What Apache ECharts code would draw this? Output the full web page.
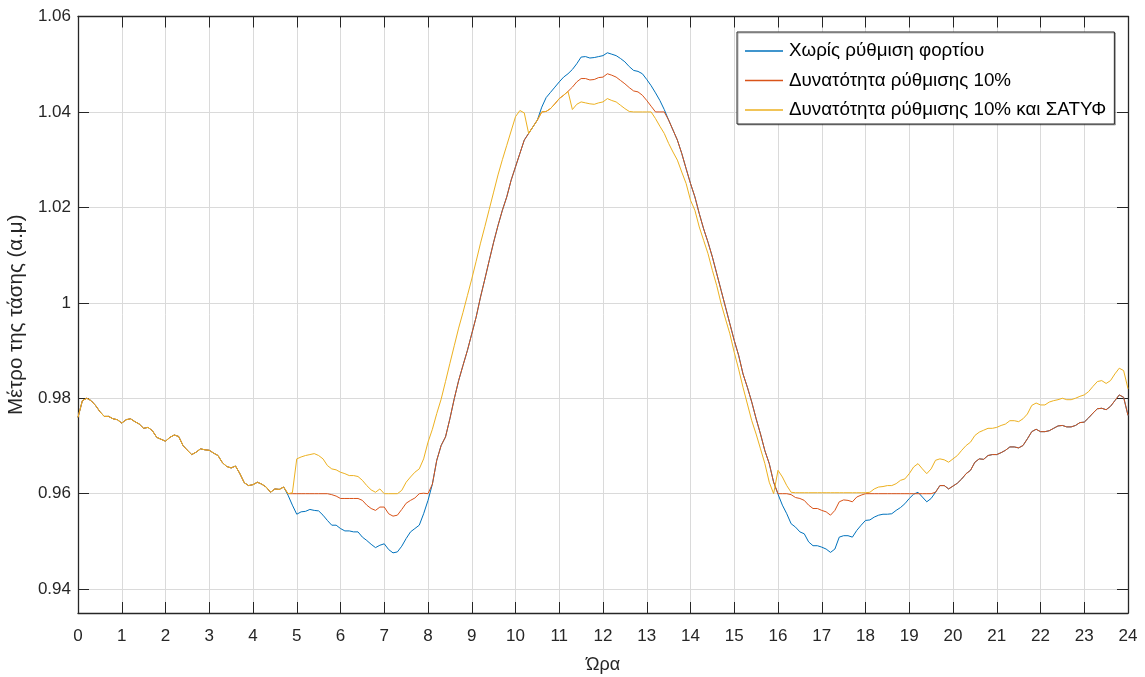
<!DOCTYPE html>
<html>
<head>
<meta charset="utf-8">
<script src="https://cdn.jsdelivr.net/npm/echarts@6/dist/echarts.min.js"></script>
<style>
  html, body { margin: 0; padding: 0; background: #ffffff; }
  #chart { width: 1145px; height: 677px; }
</style>
</head>
<body>
<div id="chart"></div>
<script>
// Sampling times (hours), one sample every 6 minutes
const hours = Array.from({ length: 241 }, (_, i) => i / 10);

// Voltage magnitude (p.u.) – no load regulation
const noRegulation = [
  0.9760,0.9795,0.9800,0.9795,0.9785,0.9772,0.9762,0.9762,0.9757,0.9755,
  0.9748,0.9755,0.9757,0.9751,0.9746,0.9737,0.9739,0.9732,0.9718,0.9714,
  0.9710,0.9718,0.9723,0.9720,0.9701,0.9691,0.9682,0.9687,0.9694,0.9692,
  0.9691,0.9685,0.9680,0.9665,0.9657,0.9654,0.9658,0.9642,0.9623,0.9617,
  0.9619,0.9624,0.9620,0.9614,0.9603,0.9610,0.9609,0.9614,0.9597,0.9576,
  0.9557,0.9562,0.9563,0.9567,0.9565,0.9564,0.9555,0.9544,0.9534,0.9534,
  0.9527,0.9522,0.9522,0.9520,0.9520,0.9509,0.9502,0.9494,0.9487,0.9492,
  0.9495,0.9483,0.9476,0.9478,0.9490,0.9506,0.9520,0.9527,0.9534,0.9558,
  0.9586,0.9620,0.9670,0.9701,0.9719,0.9757,0.9799,0.9837,0.9869,0.9900,
  0.9935,0.9970,1.0012,1.0050,1.0089,1.0127,1.0162,1.0194,1.0222,1.0257,
  1.0285,1.0313,1.0341,1.0355,1.0369,1.0383,1.0410,1.0430,1.0441,1.0452,
  1.0463,1.0473,1.0480,1.0489,1.0501,1.0515,1.0516,1.0513,1.0514,1.0516,
  1.0518,1.0524,1.0521,1.0518,1.0512,1.0505,1.0495,1.0487,1.0485,1.0480,
  1.0468,1.0455,1.0440,1.0424,1.0405,1.0383,1.0362,1.0341,1.0313,1.0281,
  1.0250,1.0222,1.0187,1.0155,1.0127,1.0096,1.0061,1.0026,0.9991,0.9956,
  0.9921,0.9890,0.9851,0.9823,0.9792,0.9757,0.9725,0.9690,0.9663,0.9624,
  0.9599,0.9576,0.9558,0.9537,0.9530,0.9520,0.9516,0.9499,0.9491,0.9491,
  0.9488,0.9484,0.9477,0.9484,0.9509,0.9512,0.9512,0.9509,0.9523,0.9534,
  0.9544,0.9545,0.9551,0.9555,0.9557,0.9557,0.9558,0.9565,0.9571,0.9579,
  0.9590,0.9599,0.9603,0.9593,0.9583,0.9590,0.9603,0.9617,0.9617,0.9610,
  0.9616,0.9622,0.9631,0.9642,0.9649,0.9666,0.9673,0.9672,0.9680,0.9682,
  0.9682,0.9686,0.9691,0.9698,0.9698,0.9696,0.9701,0.9715,0.9730,0.9735,
  0.9730,0.9730,0.9732,0.9737,0.9742,0.9743,0.9740,0.9740,0.9743,0.9749,
  0.9750,0.9759,0.9769,0.9778,0.9779,0.9776,0.9783,0.9795,0.9807,0.9802,
  0.9764
];

// Voltage magnitude (p.u.) – 10% load regulation capability
const regulation10 = [
  0.9760,0.9795,0.9800,0.9795,0.9785,0.9772,0.9762,0.9762,0.9757,0.9755,
  0.9748,0.9755,0.9757,0.9751,0.9746,0.9737,0.9739,0.9732,0.9718,0.9714,
  0.9710,0.9718,0.9723,0.9720,0.9701,0.9691,0.9682,0.9687,0.9694,0.9692,
  0.9691,0.9685,0.9680,0.9665,0.9657,0.9654,0.9658,0.9642,0.9623,0.9617,
  0.9619,0.9624,0.9620,0.9614,0.9603,0.9610,0.9609,0.9614,0.9600,0.9600,
  0.9600,0.9600,0.9600,0.9600,0.9600,0.9600,0.9600,0.9600,0.9598,0.9595,
  0.9590,0.9590,0.9590,0.9590,0.9590,0.9586,0.9576,0.9569,0.9565,0.9572,
  0.9572,0.9558,0.9553,0.9555,0.9567,0.9580,0.9586,0.9591,0.9600,0.9601,
  0.9600,0.9620,0.9670,0.9701,0.9719,0.9757,0.9799,0.9837,0.9869,0.9900,
  0.9935,0.9970,1.0012,1.0050,1.0089,1.0127,1.0162,1.0194,1.0222,1.0257,
  1.0285,1.0313,1.0341,1.0355,1.0369,1.0383,1.0400,1.0401,1.0407,1.0417,
  1.0428,1.0435,1.0443,1.0452,1.0463,1.0470,1.0470,1.0467,1.0468,1.0472,
  1.0473,1.0480,1.0477,1.0473,1.0466,1.0459,1.0451,1.0444,1.0442,1.0435,
  1.0424,1.0412,1.0400,1.0400,1.0400,1.0383,1.0362,1.0341,1.0313,1.0281,
  1.0250,1.0222,1.0187,1.0155,1.0127,1.0096,1.0061,1.0026,0.9991,0.9956,
  0.9921,0.9890,0.9851,0.9823,0.9792,0.9757,0.9725,0.9690,0.9663,0.9624,
  0.9600,0.9600,0.9600,0.9598,0.9592,0.9590,0.9586,0.9576,0.9569,0.9569,
  0.9565,0.9562,0.9555,0.9565,0.9583,0.9587,0.9586,0.9583,0.9593,0.9597,
  0.9600,0.9600,0.9600,0.9600,0.9600,0.9600,0.9600,0.9600,0.9600,0.9600,
  0.9600,0.9600,0.9600,0.9600,0.9600,0.9600,0.9603,0.9617,0.9617,0.9610,
  0.9616,0.9622,0.9631,0.9642,0.9649,0.9666,0.9673,0.9672,0.9680,0.9682,
  0.9682,0.9686,0.9691,0.9698,0.9698,0.9696,0.9701,0.9715,0.9730,0.9735,
  0.9730,0.9730,0.9732,0.9737,0.9742,0.9743,0.9740,0.9740,0.9743,0.9749,
  0.9750,0.9759,0.9769,0.9778,0.9779,0.9776,0.9783,0.9795,0.9807,0.9802,
  0.9764
];

// Voltage magnitude (p.u.) – 10% load regulation together with ΣΑΤΥΦ
const regulation10Satyf = [
  0.9760,0.9795,0.9800,0.9795,0.9785,0.9772,0.9762,0.9762,0.9757,0.9755,
  0.9748,0.9755,0.9757,0.9751,0.9746,0.9737,0.9739,0.9732,0.9718,0.9714,
  0.9710,0.9718,0.9723,0.9720,0.9701,0.9691,0.9682,0.9687,0.9694,0.9692,
  0.9691,0.9685,0.9680,0.9665,0.9657,0.9654,0.9658,0.9642,0.9623,0.9617,
  0.9619,0.9624,0.9620,0.9614,0.9603,0.9610,0.9609,0.9614,0.9600,0.9602,
  0.9673,0.9677,0.9680,0.9682,0.9684,0.9680,0.9673,0.9659,0.9652,0.9650,
  0.9645,0.9642,0.9638,0.9638,0.9636,0.9628,0.9617,0.9608,0.9603,0.9610,
  0.9600,0.9600,0.9600,0.9600,0.9607,0.9624,0.9635,0.9645,0.9652,0.9673,
  0.9708,0.9735,0.9768,0.9798,0.9835,0.9873,0.9910,0.9947,0.9980,1.0015,
  1.0050,1.0087,1.0125,1.0160,1.0196,1.0232,1.0268,1.0300,1.0330,1.0360,
  1.0390,1.0403,1.0398,1.0355,1.0369,1.0383,1.0400,1.0401,1.0407,1.0417,
  1.0428,1.0435,1.0443,1.0405,1.0416,1.0421,1.0419,1.0417,1.0416,1.0419,
  1.0421,1.0428,1.0424,1.0421,1.0414,1.0407,1.0401,1.0400,1.0400,1.0400,
  1.0400,1.0400,1.0386,1.0370,1.0355,1.0334,1.0316,1.0299,1.0274,1.0250,
  1.0215,1.0194,1.0159,1.0131,1.0103,1.0068,1.0036,0.9998,0.9966,0.9935,
  0.9896,0.9861,0.9823,0.9788,0.9753,0.9725,0.9694,0.9663,0.9624,0.9600,
  0.9649,0.9635,0.9617,0.9603,0.9602,0.9602,0.9602,0.9602,0.9602,0.9602,
  0.9602,0.9602,0.9602,0.9602,0.9602,0.9602,0.9602,0.9602,0.9602,0.9602,
  0.9602,0.9603,0.9610,0.9614,0.9615,0.9617,0.9617,0.9621,0.9628,0.9631,
  0.9642,0.9656,0.9663,0.9652,0.9642,0.9652,0.9670,0.9673,0.9671,0.9666,
  0.9673,0.9680,0.9691,0.9701,0.9708,0.9722,0.9729,0.9733,0.9737,0.9737,
  0.9739,0.9743,0.9746,0.9753,0.9753,0.9751,0.9757,0.9767,0.9785,0.9790,
  0.9786,0.9786,0.9792,0.9795,0.9797,0.9800,0.9797,0.9797,0.9800,0.9804,
  0.9807,0.9814,0.9825,0.9835,0.9837,0.9831,0.9837,0.9851,0.9863,0.9858,
  0.9820
];

const seriesNames = [
  'Χωρίς ρύθμιση φορτίου',
  'Δυνατότητα ρύθμισης 10%',
  'Δυνατότητα ρύθμισης 10% και ΣΑΤΥΦ'
];
const seriesColors = ['#0072BD', '#D95319', '#EDB120'];
const yTicks = [0.94, 0.96, 0.98, 1.00, 1.02, 1.04, 1.06];

const FONT = '"Liberation Sans", Arial, Helvetica, sans-serif';
const INK = '#262626';

const chart = echarts.init(document.getElementById('chart'), null, { renderer: 'canvas' });

const xCommon = {
  type: 'value', min: 0, max: 24, interval: 1,
  axisLine: { show: true, onZero: false, lineStyle: { color: INK, width: 1.3 } },
  axisTick: { show: true, inside: true, length: 11, lineStyle: { color: INK, width: 1 } }
};
const yCommon = {
  type: 'value', min: 0.935, max: 1.06,
  axisLine: { show: true, onZero: false, lineStyle: { color: INK, width: 1.3 } },
  axisTick: { show: true, inside: true, length: 11, customValues: yTicks, lineStyle: { color: INK, width: 1 } }
};

const series = [noRegulation, regulation10, regulation10Satyf].map((vals, k) => ({
  name: seriesNames[k],
  type: 'line',
  xAxisIndex: 0,
  yAxisIndex: 0,
  data: hours.map((h, i) => [h, vals[i]]),
  showSymbol: false,
  symbol: 'none',
  lineStyle: { width: 1, color: seriesColors[k] },
  itemStyle: { color: seriesColors[k] },
  z: 3 + k
}));

chart.setOption({
  animation: false,
  backgroundColor: '#ffffff',
  textStyle: { fontFamily: FONT },
  grid: { left: 78, right: 17, top: 16.5, bottom: 64, containLabel: false, outerBoundsMode: 'none' },
  legend: {
    orient: 'vertical',
    left: 737, top: 32,
    padding: [9, 8, 4, 8],
    icon: 'rect',
    itemWidth: 38, itemHeight: 1.5, itemGap: 9.5,
    backgroundColor: '#ffffff',
    borderColor: INK, borderWidth: 1,
    shadowColor: 'rgba(0,0,0,0.3)', shadowOffsetX: 1, shadowOffsetY: 1, shadowBlur: 0,
    textStyle: { fontFamily: FONT, fontSize: 18.8, color: '#000000', lineHeight: 20, padding: [0, 0, 0, 1] },
    data: seriesNames
  },
  xAxis: [
    Object.assign({}, xCommon, {
      position: 'bottom',
      name: 'Ώρα', nameLocation: 'middle', nameGap: 43,
      nameTextStyle: { fontFamily: FONT, fontSize: 18, color: INK },
      axisLabel: { show: true, fontFamily: FONT, fontSize: 17, color: INK, margin: 15 },
      splitLine: { show: true, lineStyle: { color: '#dadada', width: 1 } }
    }),
    Object.assign({}, xCommon, {
      position: 'top',
      axisLabel: { show: false },
      splitLine: { show: false }
    })
  ],
  yAxis: [
    Object.assign({}, yCommon, {
      position: 'left',
      name: 'Μέτρο της τάσης (α.μ)', nameLocation: 'middle', nameGap: 47,
      nameTextStyle: { fontFamily: FONT, fontSize: 20.5, color: INK },
      axisLabel: {
        show: true, customValues: yTicks, fontFamily: FONT, fontSize: 17, color: INK, margin: 7,
        formatter: v => String(parseFloat(Number(v).toFixed(2)))
      },
      splitLine: { show: true, lineStyle: { color: '#dadada', width: 1 } }
    }),
    Object.assign({}, yCommon, {
      position: 'right',
      axisLabel: { show: false },
      splitLine: { show: false }
    })
  ],
  series: series
});
</script>
</body>
</html>
